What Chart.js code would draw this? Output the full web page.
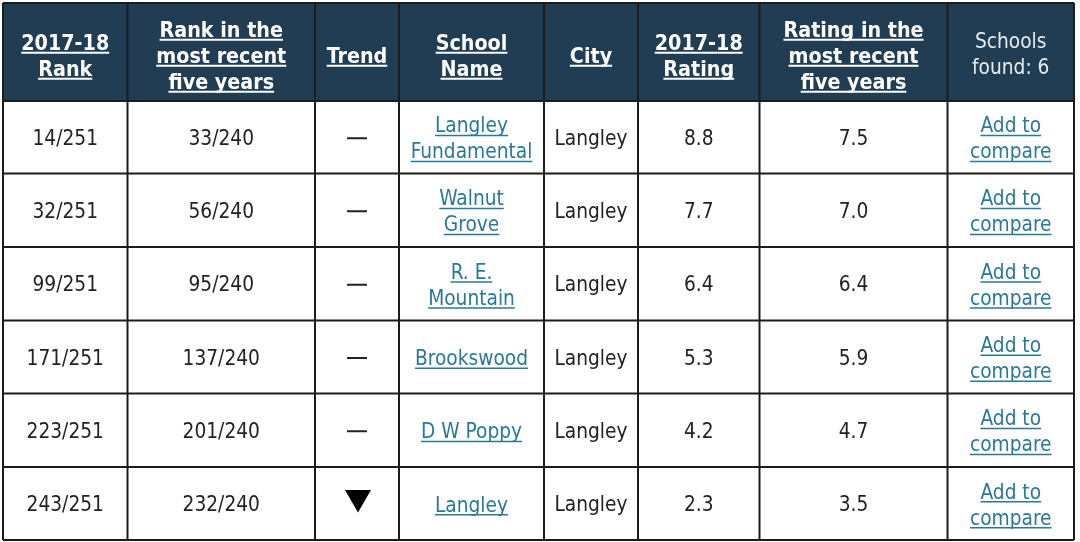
<!DOCTYPE html>
<html><head><meta charset="utf-8">
<style>html,body{margin:0;padding:0;background:#fff;overflow:hidden}canvas{display:block}</style>
<script src="https://cdn.jsdelivr.net/npm/chart.js@4/dist/chart.umd.min.js"></script>
</head><body><canvas id="c" width="1080" height="542"></canvas>
<script>
const headers = [["2017-18","Rank"],["Rank in the","most recent","five years"],["Trend"],["School","Name"],["City"],["2017-18","Rating"],["Rating in the","most recent","five years"],["Schools","found: 6"]];
const ranks = ["14/251","32/251","99/251","171/251","223/251","243/251"];
const ranksFive = ["33/240","56/240","95/240","137/240","201/240","232/240"];
const trends = ["flat","flat","flat","flat","flat","down"];
const schools = [["Langley","Fundamental"],["Walnut","Grove"],["R. E.","Mountain"],["Brookswood"],["D W Poppy"],["Langley"]];
const cities = ["Langley","Langley","Langley","Langley","Langley","Langley"];
const ratings = ["8.8","7.7","6.4","5.3","4.2","2.3"];
const ratingsFive = ["7.5","7.0","6.4","5.9","4.7","3.5"];
const compareLabel = ["Add to","compare"];

const colEdges = [3,127.5,315,399,544,638,759.5,947.5,1074];
const rowEdges = [3,101,173.5,247,320.5,393.5,467,540];
const HEAD = "#203d53", LINE = "#1c1c1c", INK = "#222222", LINK = "#2b7899";
const headFont = 'bold 21.3px "DejaVu Sans Condensed","DejaVu Sans"';
const bodyFont = '20.7px "DejaVu Sans Condensed","Open Sans"';

const colMid = i => (colEdges[i]+colEdges[i+1])/2;
const rowMid = i => (rowEdges[i+1]+rowEdges[i+2])/2;

const tablePlugin = {
  id:'table',
  beforeDatasetsDraw(chart){
    const {ctx,scales:{x,y}} = chart;
    ctx.save();
    ctx.fillStyle = HEAD;
    ctx.fillRect(x.getPixelForValue(colEdges[0]),y.getPixelForValue(rowEdges[0]),
      x.getPixelForValue(colEdges[8])-x.getPixelForValue(colEdges[0]),
      y.getPixelForValue(rowEdges[1])-y.getPixelForValue(rowEdges[0]));
    ctx.strokeStyle = LINE; ctx.lineWidth = 2;
    ctx.beginPath();
    colEdges.forEach(v=>{const p=x.getPixelForValue(v);ctx.moveTo(p,y.getPixelForValue(rowEdges[0]));ctx.lineTo(p,y.getPixelForValue(rowEdges[7]));});
    rowEdges.forEach(v=>{const p=y.getPixelForValue(v);ctx.moveTo(x.getPixelForValue(colEdges[0]),p);ctx.lineTo(x.getPixelForValue(colEdges[8]),p);});
    ctx.stroke();
    ctx.restore();
  },
  afterDatasetsDraw(chart){
    const {ctx,scales:{x,y}} = chart;
    const text = (lines,cx,cy,font,color,underW,gap=26)=>{
      ctx.font = font; ctx.fillStyle = color; ctx.strokeStyle=color;
      ctx.textAlign='center'; ctx.textBaseline='alphabetic';
      const px=x.getPixelForValue(cx), py=y.getPixelForValue(cy);
      lines.forEach((t,i)=>{
        const by = py + (i-(lines.length-1)/2)*gap + 7.5;
        ctx.fillText(t,px,by);
        if(underW){const w=ctx.measureText(t).width;ctx.lineWidth=underW;ctx.beginPath();ctx.moveTo(px-w/2,by+3.2);ctx.lineTo(px+w/2,by+3.2);ctx.stroke();}
      });
    };
    ctx.save();
    headers.forEach((h,i)=>{
      const last = i===headers.length-1;
      text(h,colMid(i),(rowEdges[0]+rowEdges[1])/2+(last?1.5:3),last?bodyFont:headFont,last?"#e6ecef":"#ffffff",last?0:2);
    });
    ranks.forEach((_,r)=>{
      const cy=rowMid(r);
      text([ranks[r]],colMid(0),cy,bodyFont,INK,0);
      text([ranksFive[r]],colMid(1),cy,bodyFont,INK,0);
      text(schools[r],colMid(3),cy+0.5,bodyFont,LINK,1.6);
      text([cities[r]],colMid(4),cy,bodyFont,INK,0);
      text([ratings[r]],colMid(5),cy,bodyFont,INK,0);
      text([ratingsFive[r]],colMid(6),cy,bodyFont,INK,0);
      text(compareLabel,colMid(7),cy+0.5,bodyFont,LINK,1.6);
    });
    ctx.restore();
  }
};

const trendFlat = trends.map((t,r)=>t==='flat'?{x:colMid(2),y:rowMid(r)+1}:null).filter(Boolean);
const trendDown = trends.map((t,r)=>t==='down'?{x:colMid(2)+1,y:rowMid(r)-6}:null).filter(Boolean);

new Chart(document.getElementById('c'),{
  type:'scatter',
  data:{datasets:[
    {label:'Trend flat',data:trendFlat,pointStyle:'line',pointRadius:10,borderColor:INK,borderWidth:2,backgroundColor:INK},
    {label:'Trend down',data:trendDown,pointStyle:'triangle',rotation:180,pointRadius:15,borderWidth:0,backgroundColor:'#000000'}
  ]},
  options:{
    responsive:false,animation:false,events:[],
    layout:{padding:0,autoPadding:false},
    plugins:{legend:{display:false},tooltip:{enabled:false},title:{display:false}},
    scales:{
      x:{type:'linear',position:'bottom',display:false,min:0,max:1080},
      y:{type:'linear',reverse:true,display:false,min:0,max:542}
    }
  },
  plugins:[tablePlugin]
});
</script></body></html>
